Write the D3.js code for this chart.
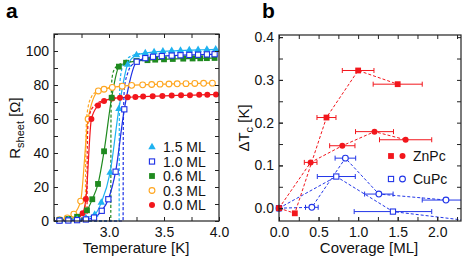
<!DOCTYPE html>
<html>
<head>
<meta charset="utf-8">
<script src="https://cdn.jsdelivr.net/npm/d3@7"></script>
<style>
  body { margin: 0; background: #fff; }
  svg { display: block; font-family: "Liberation Sans", Arial, sans-serif; }
</style>
</head>
<body>
<script>
// ---- panel a: sheet resistance vs temperature, points are [T (K), R (ohm)]
const ml15 = [[2.55,0.3],[2.63,0.5],[2.71,0.9],[2.79,1.8],[2.87,3.8],[2.93,10.8],[3.01,28.4],[3.09,66],[3.17,92],[3.25,97.6],[3.33,98.8],[3.41,99.4],[3.49,99.8],[3.57,100.1],[3.65,100.3],[3.73,100.5],[3.81,100.7],[3.89,100.8],[3.97,101]];
const ml10 = [[2.55,0.2],[2.63,0.3],[2.71,0.5],[2.79,0.9],[2.864,2],[2.934,6],[2.994,12.8],[3.06,29],[3.139,65.7],[3.252,93.7],[3.33,95.8],[3.40,96.6],[3.48,97],[3.57,97.3],[3.65,97.5],[3.73,97.7],[3.81,97.8],[3.89,98],[3.96,98.1]];
const ml06 = [[2.55,0.6],[2.63,1.2],[2.71,2.5],[2.80,6.3],[2.848,12.8],[2.90,21.8],[2.955,41],[3.024,72.5],[3.09,90.8],[3.155,93.1],[3.25,94.1],[3.35,94.6],[3.42,94.9],[3.50,95.1],[3.58,95.3],[3.675,95.5],[3.76,95.6],[3.83,95.7],[3.89,95.8],[3.96,95.9]];
const ml03 = [[2.55,0.8],[2.62,1.8],[2.68,4],[2.742,11.7],[2.81,60],[2.903,76.5],[2.955,77.5],[3.03,78.6],[3.12,79.3],[3.206,79.8],[3.306,80.1],[3.388,80.3],[3.464,80.5],[3.545,80.6],[3.62,80.7],[3.70,80.8],[3.78,80.9],[3.86,81],[3.94,81.1]];
const ml00 = [[2.55,0.3],[2.63,0.6],[2.71,1.5],[2.76,4.5],[2.79,13],[2.84,60],[2.90,68],[2.955,70.6],[3.03,72],[3.10,72.5],[3.17,72.8],[3.24,73],[3.31,73.2],[3.397,73.4],[3.485,73.6],[3.57,73.8],[3.655,73.9],[3.736,74],[3.82,74.2],[3.894,74.3],[3.973,74.4]];

// sharp-transition fits (dashed)
const fit15 = [[2.5,0],[3.092,0],[3.094,60],[3.10,82],[3.12,90],[3.16,95],[3.22,97.5],[3.3,98.6]];
const fit10 = [[2.5,0],[3.128,0],[3.13,55],[3.14,78],[3.17,87],[3.22,92.5],[3.28,94.5],[3.35,95.7]];
const fit06 = [[2.5,0],[3.016,0],[3.018,60],[3.025,82],[3.04,88],[3.08,91.5],[3.15,93.2],[3.25,94.1]];
const fit03 = [[2.5,0],[2.785,0],[2.787,30],[2.795,58],[2.81,67],[2.84,73],[2.88,75.8],[2.95,77.5],[3.05,78.8],[3.2,79.8]];
const fit00 = [[2.5,0],[2.80,0],[2.802,40],[2.81,58],[2.83,64],[2.87,68],[2.93,70.5],[3.0,71.6],[3.1,72.5],[3.2,72.9]];

const seriesLabels = ['1.5 ML', '1.0 ML', '0.6 ML', '0.3 ML', '0.0 ML'];
const tempTicks = [3.0, 3.5, 4.0];
const resTicks = [0, 20, 40, 60, 80, 100];

// ---- panel b: Tc shift vs coverage
const znSqCov = [0, 0.2, 0.6, 1.0, 1.5];
const znSqDT  = [0, -0.012, 0.212, 0.322, 0.29];
const znSqErr = [0, 0, 0.12, 0.2, 0.31];
const znCiCov = [0, 0.40, 0.80, 1.207, 1.60];
const znCiDT  = [0, 0.107, 0.146, 0.179, 0.16];
const znCiErr = [0, 0.08, 0.16, 0.24, 0.33];
const cuSqCov = [0, 0.724, 1.44, 2.6];
const cuSqDT  = [0, 0.074, -0.008, -0.034];
const cuSqErr = [0, 0.24, 0.49, 0];
const cuCiCov = [0, 0.415, 0.839, 1.262, 2.11];
const cuCiDT  = [0, 0.002, 0.117, 0.033, 0.019];
const cuCiErr = [0, 0.08, 0.13, 0.18, 0.3];
const covTicks = [0, 0.5, 1.0, 1.5, 2.0];
const dtTicks = [0, 0.1, 0.2, 0.3, 0.4];

const W = 469, H = 264;
const svg = d3.select('body').append('svg').attr('width', W).attr('height', H);

function frame(g, x, y, major, minorX, minorY, fmtX, fmtY) {
  const [x0, x1] = x.range(), [y0, y1] = y.range();
  const tk = 4;
  g.append('g').attr('transform', 'translate(0,' + y0 + ')')
    .call(d3.axisBottom(x).tickValues(minorX).tickSize(-tk).tickFormat(''));
  g.append('g').attr('transform', 'translate(0,' + y0 + ')')
    .call(d3.axisBottom(x).tickValues(major.x).tickSize(-tk).tickPadding(6).tickFormat(fmtX));
  g.append('g').attr('transform', 'translate(0,' + y1 + ')')
    .call(d3.axisTop(x).tickValues(minorX).tickSize(-tk).tickFormat(''));
  g.append('g').attr('transform', 'translate(' + x0 + ',0)')
    .call(d3.axisLeft(y).tickValues(minorY).tickSize(-tk).tickFormat(''));
  g.append('g').attr('transform', 'translate(' + x0 + ',0)')
    .call(d3.axisLeft(y).tickValues(major.y).tickSize(-tk).tickPadding(5).tickFormat(fmtY));
  g.append('g').attr('transform', 'translate(' + x1 + ',0)')
    .call(d3.axisRight(y).tickValues(minorY).tickSize(-tk).tickFormat(''));
  g.selectAll('.domain').remove();
  g.selectAll('.tick line').attr('stroke', '#222');
  g.selectAll('.tick text').attr('font-size', 14).attr('fill', '#111')
    .attr('font-family', '"Liberation Sans", Arial, sans-serif');
  g.append('rect').attr('x', x0).attr('y', y1).attr('width', x1 - x0).attr('height', y0 - y1)
    .attr('fill', 'none').attr('stroke', '#222').attr('stroke-width', 1.2);
}

// ================= panel a =================
const xa = d3.scaleLinear().domain([2.5, 4.0]).range([54, 219]);
const ya = d3.scaleLinear().domain([0, 110]).range([221, 34]);
const ga = svg.append('g');

const seriesA = [
  { pts: ml03, fit: fit03, color: '#ffa620', shape: 'circle', open: true },
  { pts: ml00, fit: fit00, color: '#f2161c', shape: 'circle', open: false },
  { pts: ml06, fit: fit06, color: '#1f8a1f', shape: 'square', open: false },
  { pts: ml15, fit: fit15, color: '#1eb2f0', shape: 'triangle', open: false },
  { pts: ml10, fit: fit10, color: '#1c2fe6', shape: 'square', open: true }
];
const legendA = [seriesA[3], seriesA[4], seriesA[2], seriesA[0], seriesA[1]];

const lineA = d3.line().x(d => xa(d[0])).y(d => ya(d[1])).curve(d3.curveMonotoneX);

function marker(sel, s, px, py) {
  if (s.shape === 'circle') {
    sel.append('circle').attr('cx', px).attr('cy', py).attr('r', s.open ? 2.9 : 3)
      .attr('fill', s.open ? '#fff' : s.color).attr('stroke', s.color).attr('stroke-width', s.open ? 1.1 : 0);
  } else if (s.shape === 'square') {
    const a = s.open ? 5.2 : 5.8;
    sel.append('rect').attr('x', px - a / 2).attr('y', py - a / 2).attr('width', a).attr('height', a)
      .attr('fill', s.open ? '#fff' : s.color).attr('stroke', s.color).attr('stroke-width', s.open ? 1.1 : 0);
  } else {
    sel.append('path').attr('transform', 'translate(' + px + ',' + py + ')')
      .attr('d', d3.symbol().type(d3.symbolTriangle).size(24)()).attr('fill', s.color);
  }
}

seriesA.forEach(s => {
  ga.append('path').datum(s.fit).attr('d', lineA).attr('fill', 'none')
    .attr('stroke', s.color).attr('stroke-width', 1.2).attr('stroke-dasharray', '3,2');
  ga.append('path').datum(s.pts).attr('d', lineA).attr('fill', 'none')
    .attr('stroke', s.color).attr('stroke-width', 1.2);
});
seriesA.forEach(s => {
  s.pts.forEach(d => marker(ga, s, xa(d[0]), ya(d[1])));
});

frame(ga, xa, ya, { x: tempTicks, y: resTicks },
  d3.range(2.5, 4.01, 0.25), d3.range(0, 110.1, 10), d3.format('.1f'), d3.format('d'));

const legA = ga.append('g');
legendA.forEach((s, i) => {
  const ly = 147 + i * 14.5;
  marker(legA, s, 152, ly);
  legA.append('text').attr('x', 163).attr('y', ly).attr('dy', '0.36em')
    .attr('font-size', 14).attr('fill', '#111').text(seriesLabels[i]);
});

ga.append('text').attr('x', 136).attr('y', 253).attr('text-anchor', 'middle')
  .attr('font-size', 15).attr('fill', '#111').text('Temperature [K]');
const yla = ga.append('text').attr('transform', 'translate(20,128) rotate(-90)')
  .attr('text-anchor', 'middle').attr('font-size', 15).attr('fill', '#111');
yla.append('tspan').text('R');
yla.append('tspan').attr('font-size', 11).attr('dy', 4).text('sheet');
yla.append('tspan').attr('dy', -4).text(' [Ω]');

svg.append('text').attr('x', 6).attr('y', 18).attr('font-size', 21).attr('font-weight', 'bold').text('a');

// ================= panel b =================
const xb = d3.scaleLinear().domain([0, 2.3]).range([279, 461]);
const yb = d3.scaleLinear().domain([-0.03, 0.405]).range([221, 35]);
const gb = svg.append('g');

gb.append('clipPath').attr('id', 'clipb').append('rect')
  .attr('x', 279).attr('y', 35).attr('width', 182).attr('height', 186);

const red = '#f2161c', blue = '#2236e8';
const seriesB = [
  { cov: cuSqCov, dt: cuSqDT, err: cuSqErr, color: blue, shape: 'square', open: true },
  { cov: cuCiCov, dt: cuCiDT, err: cuCiErr, color: blue, shape: 'circle', open: true },
  { cov: znCiCov, dt: znCiDT, err: znCiErr, color: red, shape: 'circle', open: false },
  { cov: znSqCov, dt: znSqDT, err: znSqErr, color: red, shape: 'square', open: false }
];
const lineB = d3.line().x(d => xb(d[0])).y(d => yb(d[1]));

seriesB.forEach(s => {
  const pts = s.cov.map((c, i) => [c, s.dt[i], s.err[i]]);
  const lay = gb.append('g').attr('clip-path', 'url(#clipb)');
  lay.append('path').datum(pts).attr('d', lineB).attr('fill', 'none')
    .attr('stroke', s.color).attr('stroke-width', 1).attr('stroke-dasharray', '3,2');
  pts.filter(d => d[2] > 0).forEach(d => {
    const yy = yb(d[1]), xl = xb(d[0] - d[2]), xr = xb(d[0] + d[2]);
    lay.append('line').attr('x1', xl).attr('x2', xr).attr('y1', yy).attr('y2', yy)
      .attr('stroke', s.color).attr('stroke-width', 1);
    [xl, xr].forEach(xx => lay.append('line').attr('x1', xx).attr('x2', xx)
      .attr('y1', yy - 2.5).attr('y2', yy + 2.5).attr('stroke', s.color).attr('stroke-width', 1));
  });
  s.pts = pts;
});
seriesB.forEach(s => {
  const sb = { color: s.color, shape: s.shape, open: s.open };
  s.pts.filter(d => d[0] <= 2.3).forEach(d => marker(gb, sb, xb(d[0]), yb(d[1])));
});

frame(gb, xb, yb, { x: covTicks, y: dtTicks },
  d3.range(0, 2.31, 0.25), d3.range(0, 0.401, 0.05), d3.format('.1f'), d3.format('.1f'));

const legB = gb.append('g');
[['ZnPc', red, false], ['CuPc', blue, true]].forEach((r, i) => {
  const ly = 156 + i * 23;
  marker(legB, { color: r[1], shape: 'square', open: r[2] }, 391, ly);
  marker(legB, { color: r[1], shape: 'circle', open: r[2] }, 402.5, ly);
  legB.append('text').attr('x', 413).attr('y', ly).attr('dy', '0.36em')
    .attr('font-size', 14).attr('fill', '#111').text(r[0]);
});

gb.append('text').attr('x', 369).attr('y', 253).attr('text-anchor', 'middle')
  .attr('font-size', 15).attr('fill', '#111').text('Coverage [ML]');
const ylb = gb.append('text').attr('transform', 'translate(249,128) rotate(-90)')
  .attr('text-anchor', 'middle').attr('font-size', 15).attr('fill', '#111');
ylb.append('tspan').text('ΔT');
ylb.append('tspan').attr('font-size', 11).attr('dy', 4).text('c');
ylb.append('tspan').attr('dy', -4).text(' [K]');

svg.append('text').attr('x', 262).attr('y', 18).attr('font-size', 21).attr('font-weight', 'bold').text('b');
</script>
</body>
</html>
